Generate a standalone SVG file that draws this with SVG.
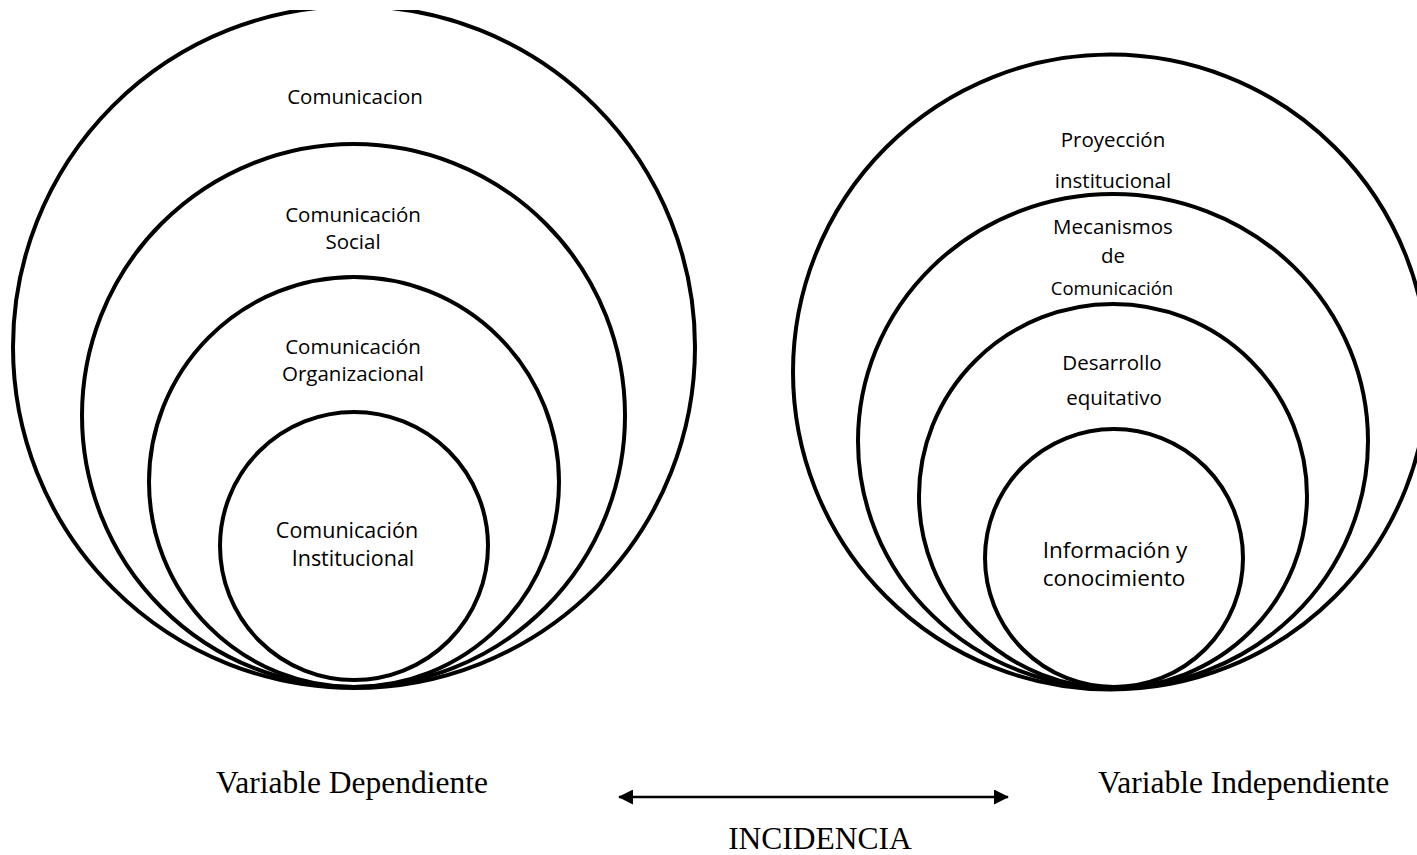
<svg xmlns="http://www.w3.org/2000/svg" width="1417" height="855" viewBox="0 0 1417 855">
<style>
.ring{fill:none;stroke:#000;stroke-width:4}
.lbl{font-family:"Open Sans","Noto Sans",sans-serif;font-size:20.5px;fill:#000;text-anchor:middle}
.big{font-size:21.5px}
.big2{font-size:22.5px}
.sm{font-size:18.5px}
.ser{font-family:"Liberation Serif","Times New Roman",serif;font-size:31.5px;fill:#000}
</style>
<defs>
<clipPath id="topclip"><rect x="0" y="10" width="1417" height="845"/></clipPath>
<marker id="ah" markerWidth="15" markerHeight="15" viewBox="0 0 16 16" refX="15" refY="8" orient="auto-start-reverse" markerUnits="userSpaceOnUse">
<path d="M0,0 L16,8 L0,16 z" fill="#000"/>
</marker>
</defs>
<rect width="1417" height="855" fill="#fff"/>
<g id="dependiente">
<g id="comunicacion"><circle class="ring" cx="354" cy="347" r="341" clip-path="url(#topclip)"/><text class="lbl" x="355" y="104">Comunicacion</text></g>
<g id="comunicacion-social"><circle class="ring" cx="353.5" cy="415.5" r="271.5"/><text class="lbl" x="353" y="222">Comunicación</text><text class="lbl" x="353" y="249">Social</text></g>
<g id="comunicacion-organizacional"><circle class="ring" cx="354" cy="482" r="205"/><text class="lbl" x="353" y="354">Comunicación</text><text class="lbl" x="353" y="381">Organizacional</text></g>
<g id="comunicacion-institucional"><circle class="ring" cx="354" cy="546" r="134"/><text class="lbl big" x="347" y="538">Comunicación</text><text class="lbl big" x="353" y="566">Institucional</text></g>
</g>
<g id="independiente">
<g id="proyeccion"><circle class="ring" cx="1110.5" cy="372" r="317.5"/><text class="lbl" x="1113" y="147">Proyección</text><text class="lbl" x="1113" y="188">institucional</text></g>
<g id="mecanismos"><ellipse class="ring" cx="1113" cy="441" rx="255" ry="247"/><text class="lbl" x="1113" y="234">Mecanismos</text><text class="lbl" x="1113" y="263">de</text><text class="lbl sm" x="1112" y="295">Comunicación</text></g>
<g id="desarrollo"><ellipse class="ring" cx="1113" cy="496" rx="194" ry="192"/><text class="lbl" x="1112" y="370">Desarrollo</text><text class="lbl" x="1114" y="405">equitativo</text></g>
<g id="informacion"><circle class="ring" cx="1114" cy="558" r="129"/><text class="lbl big2" x="1115" y="558">Información y</text><text class="lbl big2" x="1114" y="586">conocimiento</text></g>
</g>
<g id="connectors">
<line x1="619" y1="797" x2="1008" y2="797" stroke="#000" stroke-width="2.5" marker-start="url(#ah)" marker-end="url(#ah)"/>
</g>
<g id="labels">
<text class="ser" x="216" y="793">Variable Dependiente</text>
<text class="ser" x="1098" y="793">Variable Independiente</text>
<text class="ser" x="820" y="849" text-anchor="middle">INCIDENCIA</text>
</g>
</svg>
